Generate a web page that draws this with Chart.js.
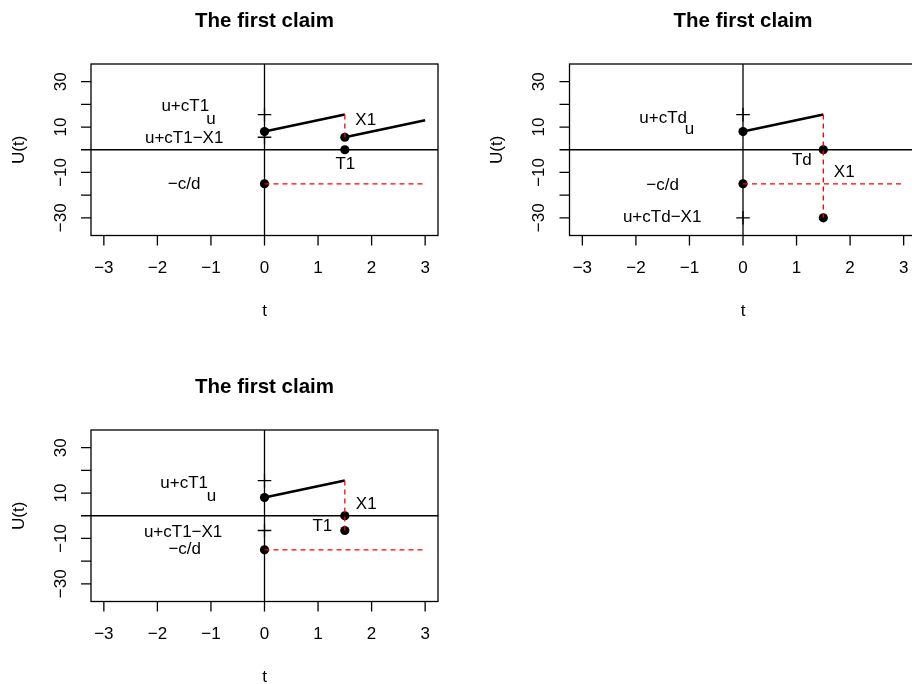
<!DOCTYPE html>
<html>
<head>
<meta charset="utf-8">
<script src="https://cdn.jsdelivr.net/npm/chart.js@4.4.0/dist/chart.umd.min.js"></script>
<style>
  body { margin: 0; background: #fff; overflow: hidden; }
  #wrap { position: relative; width: 912px; height: 684px; overflow: hidden; }
  canvas { position: absolute; left: 0; top: 0; }
</style>
</head>
<body>
<div id="wrap">
  <canvas id="c1" width="912" height="684"></canvas>
  <canvas id="c2" width="940" height="684"></canvas>
  <canvas id="c3" width="912" height="684"></canvas>
</div>
<script>
var FONT = '"Liberation Sans", Arial, Helvetica, sans-serif';

var titleText = 'The first claim';
var xTitle = 't';
var yTitle = 'U(t)';
var xTicks = [-3, -2, -1, 0, 1, 2, 3];
var xTickLabels = ['\u22123', '\u22122', '\u22121', '0', '1', '2', '3'];
var yTicks = [-30, -20, -10, 0, 10, 20, 30];
var yTickLabels = ['\u221230', '', '\u221210', '', '10', '', '30'];
var xRange = [-3.24, 3.24];
var yRange = [-37.8, 37.8];

// panel 1: claim at T1 leaves the surplus positive
var p1Before = [{x: 0, y: 8}, {x: 1.5, y: 15.5}];
var p1After = [{x: 1.5, y: 5.5}, {x: 3, y: 13}];
var p1Jump = [{x: 1.5, y: 15.5}, {x: 1.5, y: 5.5}];
var p1Floor = [{x: 0, y: -15}, {x: 3, y: -15}];
var p1Dots = [{x: 0, y: 8}, {x: 1.5, y: 5.5}, {x: 1.5, y: 0}, {x: 0, y: -15}];
var p1Plus = [{x: 0, y: 15.5}, {x: 0, y: 5.5}];
var p1Labels = [
  {text: 'u+cT1', x: -1.48, y: 19.0},
  {text: 'u', x: -1.0, y: 13.2},
  {text: 'u+cT1\u2212X1', x: -1.5, y: 5.0},
  {text: '\u2212c/d', x: -1.5, y: -15.4},
  {text: 'X1', x: 1.89, y: 12.9},
  {text: 'T1', x: 1.51, y: -6.2}
];

// panel 2: claim at Td drops below -c/d
var p2Before = [{x: 0, y: 8}, {x: 1.5, y: 15.5}];
var p2Jump = [{x: 1.5, y: 15.5}, {x: 1.5, y: -30}];
var p2Floor = [{x: 0, y: -15}, {x: 3, y: -15}];
var p2Dots = [{x: 0, y: 8}, {x: 1.5, y: 0}, {x: 0, y: -15}, {x: 1.5, y: -30}];
var p2Plus = [{x: 0, y: 15.5}, {x: 0, y: -30}];
var p2Labels = [
  {text: 'u+cTd', x: -1.49, y: 13.9},
  {text: 'u', x: -1.0, y: 8.9},
  {text: '\u2212c/d', x: -1.5, y: -15.6},
  {text: 'u+cTd\u2212X1', x: -1.51, y: -30.0},
  {text: 'Td', x: 1.1, y: -4.8},
  {text: 'X1', x: 1.89, y: -9.8}
];

// panel 3: claim at T1 lands between 0 and -c/d
var p3Before = [{x: 0, y: 8}, {x: 1.5, y: 15.5}];
var p3Jump = [{x: 1.5, y: 15.5}, {x: 1.5, y: -6.5}];
var p3Floor = [{x: 0, y: -15}, {x: 3, y: -15}];
var p3Dots = [{x: 0, y: 8}, {x: 1.5, y: 0}, {x: 1.5, y: -6.5}, {x: 0, y: -15}];
var p3Plus = [{x: 0, y: 15.5}, {x: 0, y: -6.5}];
var p3Labels = [
  {text: 'u+cT1', x: -1.5, y: 14.3},
  {text: 'u', x: -0.99, y: 8.6},
  {text: 'u+cT1\u2212X1', x: -1.52, y: -7.1},
  {text: '\u2212c/d', x: -1.49, y: -14.6},
  {text: 'X1', x: 1.9, y: 4.9},
  {text: 'T1', x: 1.08, y: -4.6}
];

// base-graphics look: box, outside ticks, rotated y labels, abline(h=0, v=0)
var rStyle = {
  id: 'rStyle',
  beforeDatasetsDraw: function (chart) {
    var ctx = chart.ctx, a = chart.chartArea;
    var x0 = chart.scales.x.getPixelForValue(0);
    var y0 = chart.scales.y.getPixelForValue(0);
    ctx.save();
    ctx.strokeStyle = '#000';
    ctx.lineWidth = 1.3;
    ctx.beginPath();
    ctx.moveTo(a.left, y0); ctx.lineTo(a.right, y0);
    ctx.moveTo(x0, a.top); ctx.lineTo(x0, a.bottom);
    ctx.stroke();
    ctx.restore();
  },
  afterDraw: function (chart, args, opts) {
    var ctx = chart.ctx, a = chart.chartArea;
    var sx = chart.scales.x, sy = chart.scales.y;
    ctx.save();
    ctx.strokeStyle = '#000';
    ctx.fillStyle = '#000';
    ctx.lineWidth = 1.3;
    ctx.strokeRect(a.left, a.top, a.right - a.left, a.bottom - a.top);

    ctx.beginPath();
    xTicks.forEach(function (v) {
      var px = sx.getPixelForValue(v);
      ctx.moveTo(px, a.bottom); ctx.lineTo(px, a.bottom + 10);
    });
    yTicks.forEach(function (v) {
      var py = sy.getPixelForValue(v);
      ctx.moveTo(a.left, py); ctx.lineTo(a.left - 10, py);
    });
    ctx.stroke();

    ctx.font = '17px ' + FONT;
    ctx.textAlign = 'center';
    ctx.textBaseline = 'middle';
    xTicks.forEach(function (v, i) {
      ctx.fillText(xTickLabels[i], sx.getPixelForValue(v), a.bottom + 33);
    });
    yTicks.forEach(function (v, i) {
      if (!yTickLabels[i]) return;
      ctx.save();
      ctx.translate(a.left - 30, sy.getPixelForValue(v));
      ctx.rotate(-Math.PI / 2);
      ctx.fillText(yTickLabels[i], 0, 0);
      ctx.restore();
    });

    var cx = (a.left + a.right) / 2, cy = (a.top + a.bottom) / 2;
    ctx.fillText(xTitle, cx, a.bottom + 75.5);
    ctx.save();
    ctx.translate(a.left - 72, cy);
    ctx.rotate(-Math.PI / 2);
    ctx.fillText(yTitle, 0, 0);
    ctx.restore();

    ctx.font = 'bold 20.5px ' + FONT;
    ctx.fillText(titleText, cx, a.top - 43);

    ctx.font = '17px ' + FONT;
    (opts.labels || []).forEach(function (l) {
      ctx.fillText(l.text, sx.getPixelForValue(l.x), sy.getPixelForValue(l.y));
    });
    ctx.restore();
  }
};

function panel(id, pad, segs, jump, floor, dots, plus, labels) {
  var datasets = [
    {type: 'line', data: jump, borderColor: '#ff0000', borderWidth: 1.3, borderDash: [5, 4], pointRadius: 0},
    {type: 'line', data: floor, borderColor: '#ff0000', borderWidth: 1.3, borderDash: [5, 4], pointRadius: 0},
    {type: 'scatter', data: dots, pointRadius: 4.6, pointBackgroundColor: '#000', pointBorderColor: '#000', pointBorderWidth: 0},
    {type: 'scatter', data: plus, pointStyle: 'cross', pointRadius: 6.8, pointBorderColor: '#000', pointBorderWidth: 1.3}
  ];
  segs.forEach(function (s) {
    datasets.push({type: 'line', data: s, borderColor: '#000', borderWidth: 2.6, pointRadius: 0});
  });
  return new Chart(document.getElementById(id).getContext('2d'), {
    data: {datasets: datasets},
    options: {
      responsive: false,
      devicePixelRatio: 1,
      animation: false,
      events: [],
      layout: {padding: pad},
      scales: {
        x: {type: 'linear', min: xRange[0], max: xRange[1], display: false},
        y: {type: 'linear', min: yRange[0], max: yRange[1], display: false}
      },
      plugins: {
        legend: {display: false},
        tooltip: {enabled: false},
        rStyle: {labels: labels}
      }
    },
    plugins: [rStyle]
  });
}

panel('c1', {left: 91, top: 64, right: 474, bottom: 448.5},
  [p1Before, p1After], p1Jump, p1Floor, p1Dots, p1Plus, p1Labels);
// this panel runs past the right edge of the page, as in the picture
panel('c2', {left: 569.5, top: 64, right: 23.5, bottom: 448.5},
  [p2Before], p2Jump, p2Floor, p2Dots, p2Plus, p2Labels);
panel('c3', {left: 91, top: 430, right: 474, bottom: 82.5},
  [p3Before], p3Jump, p3Floor, p3Dots, p3Plus, p3Labels);
</script>
</body>
</html>
